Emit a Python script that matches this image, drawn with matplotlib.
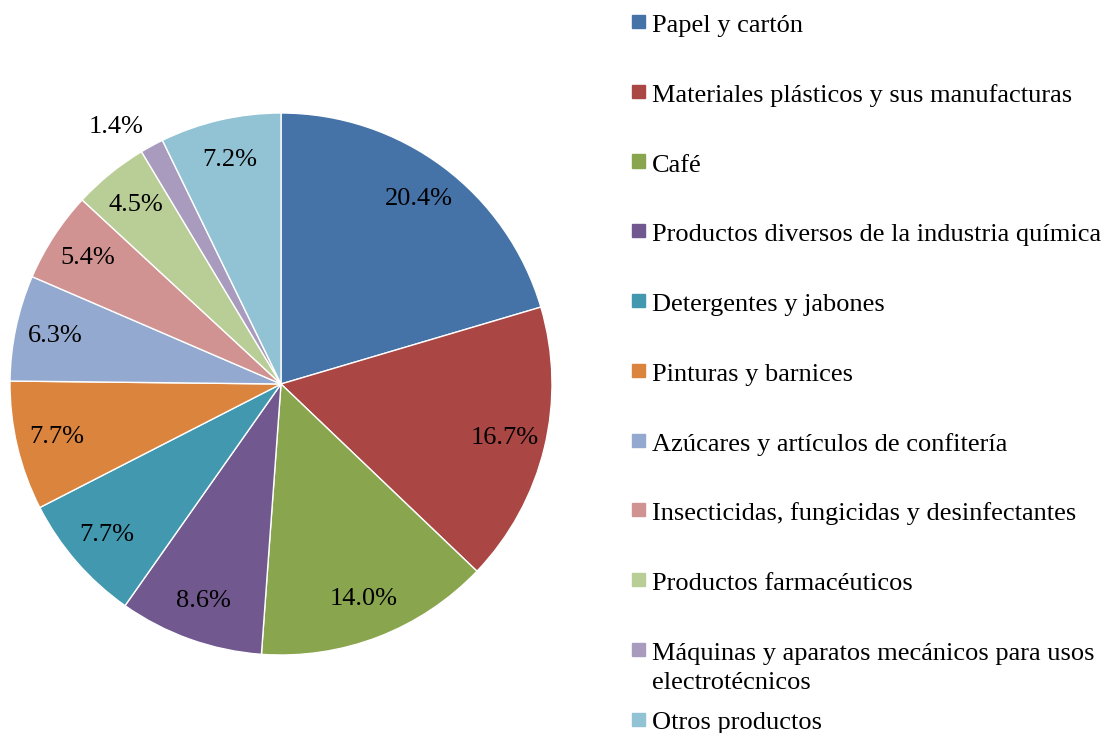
import matplotlib
matplotlib.use("Agg")
import matplotlib.pyplot as plt
from matplotlib.patches import Rectangle
import numpy as np

plt.rcParams['font.family'] = ['Liberation Serif', 'DejaVu Serif']

labels = ["Papel y cartón",
          "Materiales plásticos y sus manufacturas",
          "Café",
          "Productos diversos de la industria química",
          "Detergentes y jabones",
          "Pinturas y barnices",
          "Azúcares y artículos de confitería",
          "Insecticidas, fungicidas y desinfectantes",
          "Productos farmacéuticos",
          "Máquinas y aparatos mecánicos para usos\nelectrotécnicos",
          "Otros productos"]
values = [20.4, 16.7, 14.0, 8.6, 7.7, 7.7, 6.3, 5.4, 4.5, 1.4, 7.2]
colors = ["#4572A7", "#AA4643", "#89A54E", "#71588F", "#4198AF", "#DB843D",
          "#93A9CF", "#D19392", "#B9CD96", "#A99BBD", "#92C3D5"]

W, H = 1105, 733
fig = plt.figure(figsize=(W / 100, H / 100), dpi=100)

# pie area in pixels: centre (281, 384), radius 271
cx, cy, r = 281, 384, 271
ax = fig.add_axes([(cx - r) / W, (H - cy - r) / H, 2 * r / W, 2 * r / H])

wedges, texts = ax.pie(values, colors=colors, startangle=90, counterclock=False,
                       wedgeprops=dict(edgecolor="white", linewidth=1))
ax.set_xlim(-1, 1)
ax.set_ylim(-1, 1)
ax.set_aspect("equal")

total = sum(values)
cum = 0
for v in values:
    mid = 90 - (cum + v / 2) / total * 360
    cum += v
    if v > 3:
        d = 0.85
    else:
        # small slice: label sits outside
        d = 1.125
        mid += 4.2
    x = d * np.cos(np.radians(mid))
    y = d * np.sin(np.radians(mid))
    ax.text(x, y, f"{v:.1f}%", ha="center", va="center", fontsize=19,
            clip_on=False)

# legend drawn by hand to match the layout
yc = 21.5
for lab, col in zip(labels, colors):
    fig.add_artist(Rectangle((632 / W, 1 - (yc + 6.5) / H), 13 / W, 13 / H,
                             transform=fig.transFigure, color=col))
    for i, ln in enumerate(lab.split("\n")):
        fig.text(652 / W, 1 - (yc + 10.5 + i * 29) / H, ln, fontsize=19,
                 ha="left", va="baseline")
    yc += 69.75

fig.savefig("out.png", dpi=100)
